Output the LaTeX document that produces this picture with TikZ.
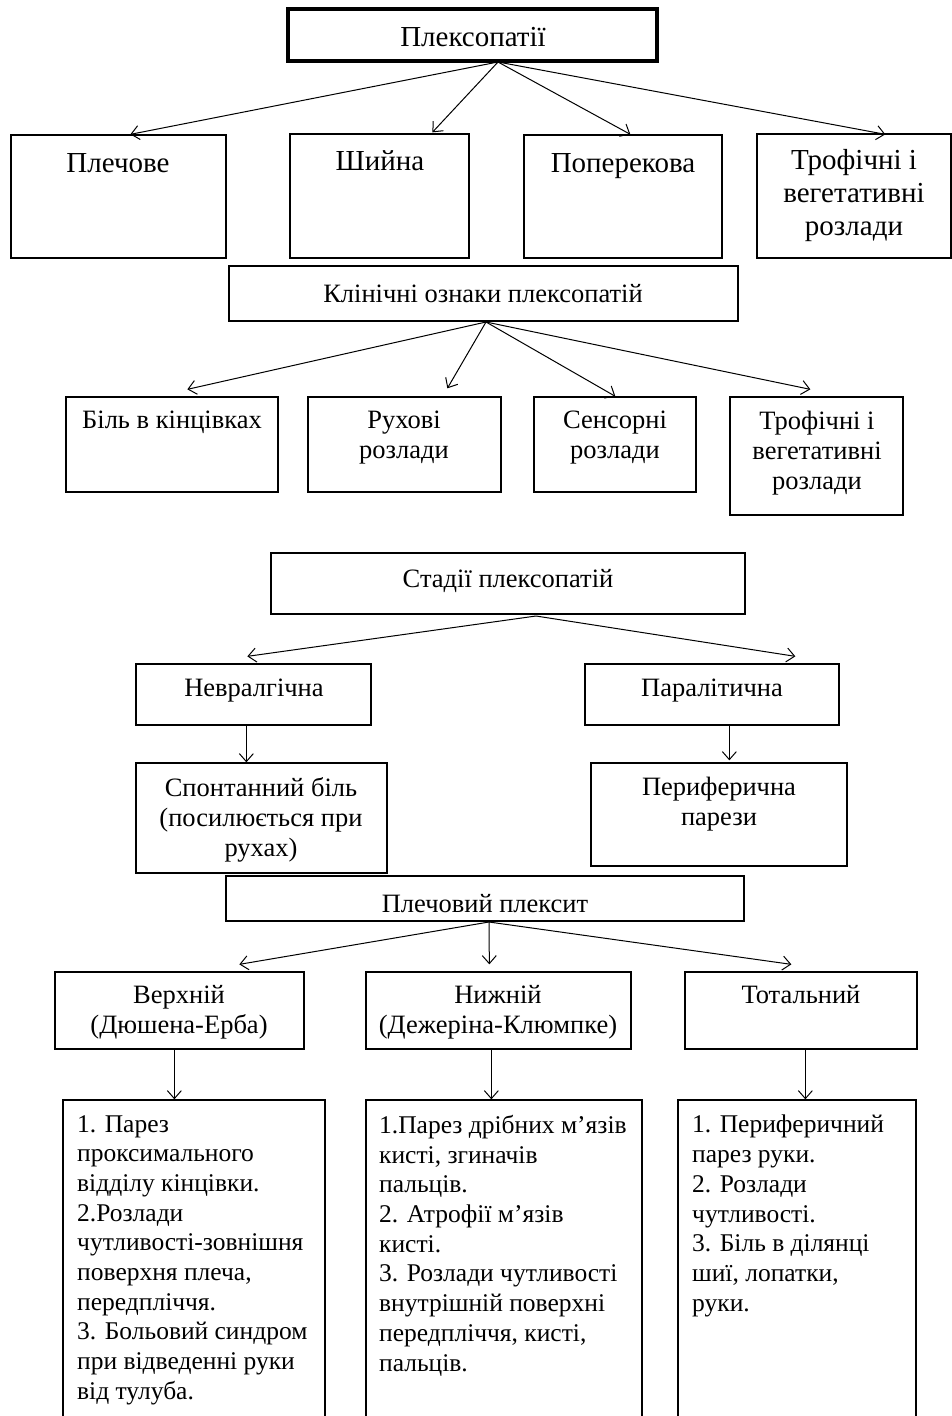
\documentclass[tikz,border=0pt]{standalone}
\usepackage{fontspec}
\setmainfont{Liberation Serif}
\usetikzlibrary{arrows.meta,calc,fit}

\newcommand\panel[5]{\node[frame,fit={(#2,#3) (#4,#5)}] (#1) {};}

\begin{document}
\begin{tikzpicture}[x=1pt,y=-1pt,
  frame/.style={draw, line width=1.3pt, inner sep=0pt},
  lbl/.style={inner sep=0pt, align=center, anchor=north},
  lst/.style={inner sep=0pt, align=left, anchor=north west},
  big/.style={font=\fontsize{29}{33}\selectfont},
  mid/.style={font=\fontsize{26.5}{30}\selectfont},
  small/.style={font=\fontsize{25.5}{29.7}\selectfont},
  link/.style={line width=1pt, -{Straight Barb[length=8pt,width=14pt,line width=1pt]}}
]
\fill[white] (0,0) rectangle (952,1416);
\useasboundingbox (0,0) rectangle (952,1416);

% --- Types of plexopathy
\node[frame, line width=4pt, fit={(288,9) (657,61)}] (root) {};
\node[lbl,big] (root-t) at (473,27) {Плексопатії};
\panel{p1}{11}{135}{226}{258}
\panel{p2}{290}{134}{469}{258}
\panel{p3}{524}{135}{722}{258}
\panel{p4}{757}{134}{951}{258}
\node[lbl,big] (p1-t) at (118,153) {Плечове};
\node[lbl,big] (p2-t) at (380,150) {Шийна};
\node[lbl,big] (p3-t) at (623,153) {Поперекова};
\node[lbl,big] (p4-t) at (854,149) {Трофічні і\\вегетативні\\розлади};
\coordinate (o1) at (498,62);
\draw[link] (o1) -- ($(p1.north west)+(120,0)$);
\draw[link] (o1) -- ($(p2.north west)+(143,-1)$);
\draw[link] (o1) -- ($(p3.north west)+(107,0)$);
\draw[link] (o1) -- ($(p4.north west)+(129,1)$);

% --- Clinical signs
\panel{cs}{229}{266}{738}{321}
\node[lbl,mid] (cs-t) at (483,284) {Клінічні ознаки плексопатій};
\panel{c1}{66}{397}{278}{492}
\panel{c2}{308}{397}{501}{492}
\panel{c3}{534}{397}{696}{492}
\panel{c4}{730}{397}{903}{515}
\node[lbl,mid] (c1-t) at (172,411) {Біль в кінцівках};
\node[lbl,mid] (c2-t) at (404,411) {Рухові\\розлади};
\node[lbl,mid] (c3-t) at (615,411) {Сенсорні\\розлади};
\node[lbl,mid] (c4-t) at (817,411) {Трофічні і\\вегетативні\\розлади};
\coordinate (o2) at (486,322);
\draw[link] (o2) -- ($(c1.north west)+(122,-7)$);
\draw[link] (o2) -- ($(c2.north west)+(140,-8)$);
\draw[link] (o2) -- ($(c3.north west)+(82,0)$);
\draw[link] (o2) -- ($(c4.north west)+(81,-7)$);

% --- Stages
\panel{st}{271}{553}{745}{614}
\node[lbl,mid] (st-t) at (508,569) {Стадії плексопатій};
\panel{s1}{136}{664}{371}{725}
\panel{s2}{585}{664}{839}{725}
\node[lbl,mid] (s1-t) at (254,679) {Невралгічна};
\node[lbl,mid] (s2-t) at (712,679) {Паралітична};
\coordinate (o3) at (536,616);
\draw[link] (o3) -- ($(s1.north west)+(112,-7)$);
\draw[link] (o3) -- ($(s2.north west)+(211,-7)$);
\panel{s3}{136}{763}{387}{873}
\panel{s4}{591}{763}{847}{866}
\node[lbl,mid] (s3-t) at (261,777) {Спонтанний біль\\(посилюється при\\рухах)};
\node[lbl,mid] (s4-t) at (719,777) {Периферична\\парези};
\draw[link] ($(s1.south west)+(111,0)$) -- ($(s3.north west)+(111,0)$);
\draw[link] ($(s2.south west)+(145,0)$) -- ($(s4.north west)+(139,-2)$);

% --- Brachial plexitis
\panel{bp}{226}{876}{744}{921}
\node[lbl,mid] (bp-t) at (485,894) {Плечовий плексит};
\panel{b1}{55}{972}{304}{1049}
\panel{b2}{366}{972}{631}{1049}
\panel{b3}{685}{972}{917}{1049}
\node[lbl,mid] (b1-t) at (179,985) {Верхній\\(Дюшена-Ерба)};
\node[lbl,mid] (b2-t) at (498,985) {Нижній\\(Дежеріна-Клюмпке)};
\node[lbl,mid] (b3-t) at (801,985) {Тотальний};
\coordinate (o4) at (489,922);
\draw[link] (o4) -- ($(b1.north west)+(185,-7)$);
\draw[link] (o4) -- ($(b2.north west)+(124,-7)$);
\draw[link] (o4) -- ($(b3.north west)+(107,-7)$);

\panel{d1}{63}{1100}{325}{1430}
\panel{d2}{366}{1100}{642}{1430}
\panel{d3}{678}{1100}{916}{1430}
\draw[link] ($(b1.south west)+(120,0)$) -- ($(d1.north west)+(112,0)$);
\draw[link] ($(b2.south west)+(126,0)$) -- ($(d2.north west)+(126,0)$);
\draw[link] ($(b3.south west)+(121,0)$) -- ($(d3.north west)+(128,0)$);
\node[lst,small] (d1-t) at (77,1115) {1. Парез\\проксимального\\відділу кінцівки.\\2.Розлади\\чутливості-зовнішня\\поверхня плеча,\\передпліччя.\\3. Больовий синдром\\при відведенні руки\\від тулуба.};
\node[lst,small] (d2-t) at (379,1115) {1.Парез дрібних м’язів\\кисті, згиначів\\пальців.\\2. Атрофії м’язів\\кисті.\\3. Розлади чутливості\\внутрішній поверхні\\передпліччя, кисті,\\пальців.};
\node[lst,small] (d3-t) at (692,1115) {1. Периферичний\\парез руки.\\2. Розлади\\чутливості.\\3. Біль в ділянці\\шиї, лопатки,\\руки.};
\end{tikzpicture}
\end{document}
